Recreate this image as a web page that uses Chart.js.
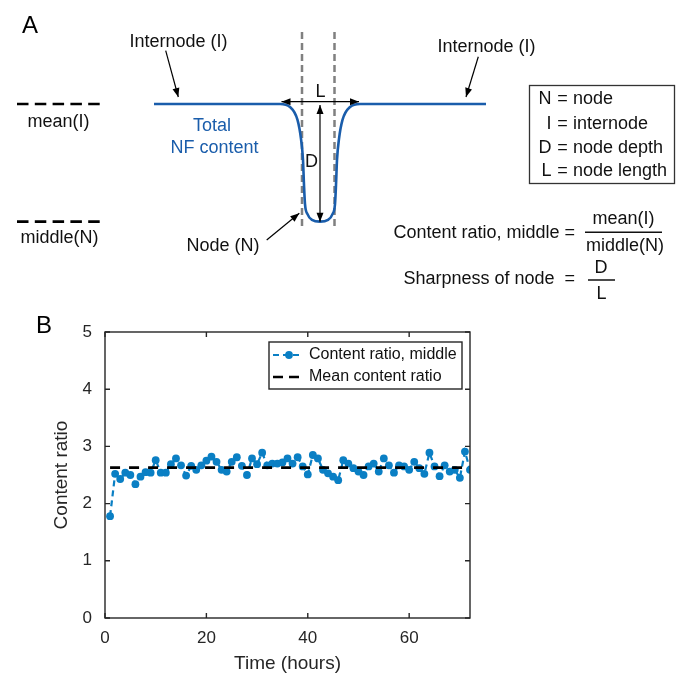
<!DOCTYPE html>
<html>
<head>
<meta charset="utf-8">
<script src="https://cdn.jsdelivr.net/npm/chart.js@4.4.0/dist/chart.umd.min.js"></script>
<style>
  html, body { margin: 0; padding: 0; background: #fff; }
  #panelA { position: absolute; left: 0; top: 0; }
  #panelB { position: absolute; left: 0; top: 300px; }
</style>
</head>
<body>
<canvas id="panelA" width="684" height="300"></canvas>
<canvas id="panelB" width="684" height="375"></canvas>
<script>
// Panel A: schematic NF profile along the axon (position relative to node centre, level relative to internode mean)
const profilePos = [-166, -40, -30, -22.5, -19, -17, -16, -15, -12.5, -8, 0, 8, 12.5, 15, 16, 17, 19, 22.5, 30, 40, 166];
const profileLevel = [1, 1, 0.984, 0.916, 0.816, 0.705, 0.573, 0.473, 0.42, 0.389, 0.38, 0.389, 0.42, 0.473, 0.573, 0.705, 0.816, 0.916, 0.984, 1, 1];
const meanLevel = 1;
const middleLevel = 0.38;
const nodeStart = -18;
const nodeEnd = 14.5;

// Panel B: content ratio over time
const hours = [1, 2, 3, 4, 5, 6, 7, 8, 9, 10, 11, 12, 13, 14, 15, 16, 17, 18, 19, 20, 21, 22, 23, 24,
  25, 26, 27, 28, 29, 30, 31, 32, 33, 34, 35, 36, 37, 38, 39, 40, 41, 42, 43, 44, 45, 46, 47, 48,
  49, 50, 51, 52, 53, 54, 55, 56, 57, 58, 59, 60, 61, 62, 63, 64, 65, 66, 67, 68, 69, 70, 71, 72];
const contentRatio = [1.78, 2.52, 2.43, 2.54, 2.50, 2.34, 2.47, 2.55, 2.54, 2.76, 2.54, 2.54,
  2.69, 2.79, 2.67, 2.49, 2.66, 2.59, 2.67, 2.75, 2.82, 2.73, 2.59, 2.56,
  2.73, 2.81, 2.66, 2.50, 2.79, 2.69, 2.89, 2.67, 2.70, 2.70, 2.72, 2.79,
  2.70, 2.81, 2.65, 2.51, 2.85, 2.79, 2.59, 2.53, 2.47, 2.41, 2.76, 2.70,
  2.62, 2.56, 2.50, 2.65, 2.70, 2.56, 2.79, 2.67, 2.54, 2.67, 2.65, 2.59,
  2.73, 2.62, 2.52, 2.89, 2.65, 2.48, 2.67, 2.56, 2.59, 2.45, 2.91, 2.59];
const meanRatio = 2.63;
const xTickValues = [0, 20, 40, 60];
const yTickValues = [0, 1, 2, 3, 4, 5];

const nfBlue = '#1a5dab';
const ratioBlue = '#0a7fc4';
const axisGray = '#262626';
const fontFamily = '"Liberation Sans", Arial, Helvetica, sans-serif';
const font = size => size + 'px ' + fontFamily;

Chart.defaults.font.family = fontFamily;
Chart.defaults.color = axisGray;

function arrowHead(ctx, fx, fy, tx, ty) {
  const ang = Math.atan2(ty - fy, tx - fx);
  const len = 9, half = 3.5;
  const c = Math.cos(ang), s = Math.sin(ang);
  ctx.beginPath();
  ctx.moveTo(tx, ty);
  ctx.lineTo(tx - len * c + half * s, ty - len * s - half * c);
  ctx.lineTo(tx - len * c - half * s, ty - len * s + half * c);
  ctx.closePath();
  ctx.fill();
}

function drawArrow(ctx, x1, y1, x2, y2, both) {
  ctx.beginPath();
  ctx.moveTo(x1, y1);
  ctx.lineTo(x2, y2);
  ctx.stroke();
  arrowHead(ctx, x1, y1, x2, y2);
  if (both) arrowHead(ctx, x2, y2, x1, y1);
}

function text(ctx, str, x, y, align, size, color) {
  ctx.font = font(size || 18);
  ctx.fillStyle = color || '#111';
  ctx.textAlign = align || 'center';
  ctx.textBaseline = 'alphabetic';
  ctx.fillText(str, x, y);
}

// annotations of the schematic
const sketchPlugin = {
  id: 'sketch',
  beforeDatasetsDraw(chart) {
    const {ctx, scales: {x}} = chart;
    ctx.save();
    ctx.strokeStyle = '#808080';
    ctx.lineWidth = 2.5;
    ctx.setLineDash([7, 4]);
    [nodeStart, nodeEnd].forEach(p => {
      const px = x.getPixelForValue(p);
      ctx.beginPath();
      ctx.moveTo(px, 32);
      ctx.lineTo(px, 230);
      ctx.stroke();
    });
    ctx.restore();
  },
  afterDatasetsDraw(chart) {
    const {ctx, scales: {x, y}} = chart;
    const yMean = y.getPixelForValue(meanLevel);
    const yMid = y.getPixelForValue(middleLevel);
    const xc = x.getPixelForValue(0);
    ctx.save();

    text(ctx, 'A', 22, 33, 'left', 24, '#000');

    // reference levels on the left
    ctx.strokeStyle = '#000';
    ctx.lineWidth = 2.6;
    ctx.setLineDash([11.5, 6.3]);
    [yMean, yMid].forEach(py => {
      ctx.beginPath();
      ctx.moveTo(17, py);
      ctx.lineTo(100, py);
      ctx.stroke();
    });
    ctx.setLineDash([]);
    text(ctx, 'mean(I)', 58.5, yMean + 23);
    text(ctx, 'middle(N)', 59.5, yMid + 21);

    // L and D arrows
    ctx.strokeStyle = '#000';
    ctx.fillStyle = '#000';
    ctx.lineWidth = 1.2;
    drawArrow(ctx, x.getPixelForValue(-38.5), yMean - 2.3, x.getPixelForValue(39), yMean - 2.3, true);
    drawArrow(ctx, xc, yMean + 1, xc, yMid, true);
    text(ctx, 'L', xc + 0.5, 97);
    text(ctx, 'D', xc - 8.5, 167);

    // pointer labels
    text(ctx, 'Internode (I)', 178.5, 47);
    ctx.fillStyle = '#000';
    drawArrow(ctx, 165.7, 50.7, 178.3, yMean - 7);
    text(ctx, 'Internode (I)', 486.5, 52);
    ctx.fillStyle = '#000';
    drawArrow(ctx, 478.3, 56.7, 466, yMean - 7);
    text(ctx, 'Node (N)', 223, 251);
    ctx.fillStyle = '#000';
    drawArrow(ctx, 266.7, 240, 299.3, 213.3);

    text(ctx, 'Total', 212, 131, 'center', 18, nfBlue);
    text(ctx, 'NF content', 214.5, 153, 'center', 18, nfBlue);

    // definitions box
    ctx.strokeStyle = '#333';
    ctx.lineWidth = 1.3;
    ctx.strokeRect(529.5, 85.5, 145, 98);
    const defs = [['N', 'node', 104], ['I', 'internode', 129], ['D', 'node depth', 153], ['L', 'node length', 176]];
    defs.forEach(d => {
      text(ctx, d[0], 551.5, d[2], 'right');
      text(ctx, '=', 562.5, d[2], 'center');
      text(ctx, d[1], 573, d[2], 'left');
    });

    // formulas
    text(ctx, 'Content ratio, middle =', 575, 238, 'right');
    text(ctx, 'mean(I)', 623.5, 224);
    text(ctx, 'middle(N)', 625, 251);
    text(ctx, 'Sharpness of node  =', 575, 284, 'right');
    text(ctx, 'D', 601, 273);
    text(ctx, 'L', 601.5, 299);
    ctx.strokeStyle = '#111';
    ctx.lineWidth = 1.5;
    ctx.beginPath();
    ctx.moveTo(585, 232.3); ctx.lineTo(662, 232.3);
    ctx.moveTo(588, 280); ctx.lineTo(615, 280);
    ctx.stroke();

    ctx.restore();
  }
};

new Chart(document.getElementById('panelA'), {
  type: 'line',
  data: {
    datasets: [{
      data: profilePos.map((p, i) => ({x: p, y: profileLevel[i]})),
      borderColor: nfBlue,
      borderWidth: 2.6,
      pointRadius: 0,
      cubicInterpolationMode: 'monotone',
      fill: false
    }]
  },
  options: {
    responsive: false,
    animation: false,
    events: [],
    layout: {padding: 0},
    plugins: {legend: {display: false}, tooltip: {enabled: false}},
    scales: {
      x: {type: 'linear', display: false, min: -320, max: 364},
      y: {type: 'linear', display: false, min: -0.0327, max: 1.548}
    }
  },
  plugins: [sketchPlugin]
});

// box, inside ticks, legend and panel letter for B
const framePlugin = {
  id: 'frame',
  afterDraw(chart) {
    const {ctx, chartArea: a, scales: {x, y}} = chart;
    ctx.save();
    ctx.strokeStyle = axisGray;
    ctx.lineWidth = 1.4;
    ctx.strokeRect(a.left, a.top, a.right - a.left, a.bottom - a.top);
    ctx.beginPath();
    xTickValues.forEach(v => {
      const px = x.getPixelForValue(v);
      ctx.moveTo(px, a.bottom); ctx.lineTo(px, a.bottom - 5);
      ctx.moveTo(px, a.top); ctx.lineTo(px, a.top + 5);
    });
    yTickValues.forEach(v => {
      const py = y.getPixelForValue(v);
      ctx.moveTo(a.left, py); ctx.lineTo(a.left + 5, py);
      ctx.moveTo(a.right, py); ctx.lineTo(a.right - 5, py);
    });
    ctx.stroke();

    // legend
    const lx = a.right - 201, ly = a.top + 10, lw = 193, lh = 47;
    ctx.fillStyle = '#fff';
    ctx.fillRect(lx, ly, lw, lh);
    ctx.lineWidth = 1.4;
    ctx.strokeStyle = axisGray;
    ctx.strokeRect(lx, ly, lw, lh);
    const r1 = ly + 13, r2 = ly + 35;
    ctx.strokeStyle = ratioBlue;
    ctx.lineWidth = 2.2;
    ctx.setLineDash([6, 4]);
    ctx.beginPath(); ctx.moveTo(lx + 4, r1); ctx.lineTo(lx + 33, r1); ctx.stroke();
    ctx.setLineDash([]);
    ctx.fillStyle = ratioBlue;
    ctx.beginPath(); ctx.arc(lx + 20, r1, 3.9, 0, Math.PI * 2); ctx.fill();
    ctx.strokeStyle = '#000';
    ctx.lineWidth = 2.7;
    ctx.setLineDash([10, 6]);
    ctx.beginPath(); ctx.moveTo(lx + 4, r2); ctx.lineTo(lx + 33, r2); ctx.stroke();
    ctx.setLineDash([]);
    ctx.font = font(16);
    ctx.fillStyle = '#111';
    ctx.textAlign = 'left';
    ctx.textBaseline = 'middle';
    ctx.fillText(chart.data.datasets[0].label, lx + 40, r1);
    ctx.fillText(chart.data.datasets[1].label, lx + 40, r2);

    text(ctx, 'B', 36, 33, 'left', 24, '#000');
    ctx.restore();
  }
};

new Chart(document.getElementById('panelB'), {
  type: 'line',
  data: {
    datasets: [{
      label: 'Content ratio, middle',
      data: hours.map((h, i) => ({x: h, y: contentRatio[i]})),
      borderColor: ratioBlue,
      backgroundColor: ratioBlue,
      borderWidth: 2.2,
      borderDash: [6, 4],
      pointRadius: 3.9,
      pointBorderWidth: 0,
      pointBackgroundColor: ratioBlue,
      tension: 0,
      order: 2
    }, {
      label: 'Mean content ratio',
      data: [{x: hours[0], y: meanRatio}, {x: hours[hours.length - 1], y: meanRatio}],
      borderColor: '#000',
      borderWidth: 2.7,
      borderDash: [10, 9],
      pointRadius: 0,
      order: 1
    }]
  },
  options: {
    responsive: false,
    animation: false,
    events: [],
    layout: {padding: {left: 0, right: 214, top: 32, bottom: 0}},
    plugins: {legend: {display: false}, tooltip: {enabled: false}},
    scales: {
      x: {
        type: 'linear',
        min: 0,
        max: 72,
        afterBuildTicks: s => { s.ticks = xTickValues.map(v => ({value: v})); },
        afterFit: s => { s.height = 57; },
        grid: {display: false, drawTicks: false},
        border: {display: false},
        ticks: {font: {size: 17}, color: axisGray, padding: 10, maxRotation: 0},
        title: {display: true, text: 'Time (hours)', font: {size: 19}, color: axisGray, padding: {top: 0, bottom: 0}}
      },
      y: {
        type: 'linear',
        min: 0,
        max: 5,
        afterBuildTicks: s => { s.ticks = yTickValues.map(v => ({value: v})); },
        afterFit: s => { s.width = 105; },
        grid: {display: false, drawTicks: false},
        border: {display: false},
        ticks: {font: {size: 17}, color: axisGray, padding: 13},
        title: {display: true, text: 'Content ratio', font: {size: 19}, color: axisGray, padding: {top: 50, bottom: 0}}
      }
    }
  },
  plugins: [framePlugin]
});
</script>
</body>
</html>
